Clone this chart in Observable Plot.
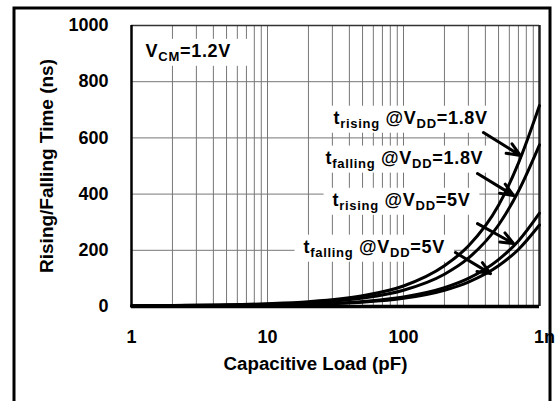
<!DOCTYPE html>
<html><head><meta charset="utf-8">
<script src="https://cdn.jsdelivr.net/npm/d3@7"></script>
<script src="https://cdn.jsdelivr.net/npm/@observablehq/plot@0.6"></script>
<style>
body{margin:0;background:#fff}
#chart svg{display:block}
</style>
</head><body><div id="chart"></div>
<script>
// ---- data ----
const capacitance = [1, 2, 5, 10, 20, 50, 100, 200, 300, 500, 700, 1000]; // pF
const riseVdd18 = [3, 4, 6, 10, 17, 38, 73, 145, 215, 360, 510, 715];
const fallVdd18 = [2, 3, 5, 8, 13, 30, 58, 115, 172, 290, 410, 575];
const riseVdd5  = [2, 2, 3, 5, 8, 18, 34, 67, 100, 167, 233, 332];
const fallVdd5  = [1, 2, 3, 4, 7, 15, 29, 58, 87, 145, 203, 290];
const seriesNames = ["rise18", "fall18", "rise5", "fall5"];

const xTicks = [1, 10, 100];
const xTickLabels = ["1", "10", "100"];
const xLastTick = [1000];
const xLastTickLabel = ["1n"];
const yTicks = [0, 200, 400, 600, 800, 1000];
const gridX = [2,3,4,5,6,7,8,9,10,20,30,40,50,60,70,80,90,100,200,300,400,500,600,700,800,900];
const gridY = [200, 400, 600, 800];

const xTitle = "Capacitive Load (pF)";
const yTitle = "Rising/Falling Time (ns)";

// annotation labels (anchor in data coordinates: pF, ns)
const labelTexts = ["V_{CM}=1.2V", "t_{rising} @V_{DD}=1.8V", "t_{falling} @V_{DD}=1.8V", "t_{rising} @V_{DD}=5V", "t_{falling} @V_{DD}=5V"];
const labelX = [1.27, 30.6, 26.7, 30.1, 18.4];
const labelY = [909, 671, 529, 379, 212];

// arrows (data coordinates)
const arrowX1 = [387, 350, 350, 241];
const arrowY1 = [619, 473, 295, 192];
const arrowX2 = [725, 644, 644, 436];
const arrowY2 = [537, 395, 224, 117];

// ---- build tables ----
const seriesValues = [riseVdd18, fallVdd18, riseVdd5, fallVdd5];
const rows = [];
seriesValues.forEach((vals, s) => vals.forEach((v, i) => rows.push({C: capacitance[i], t: v, series: seriesNames[s]})));
const labels = labelTexts.map((t, i) => ({t, x: labelX[i], y: labelY[i]}));
const arrows = arrowX1.map((d, i) => ({x1: d, y1: arrowY1[i], x2: arrowX2[i], y2: arrowY2[i]}));

const FONT = "Liberation Sans, Arial, Helvetica, sans-serif";

const plot = Plot.plot({
  width: 555, height: 401,
  marginLeft: 131, marginRight: 16, marginTop: 25, marginBottom: 95,
  style: {fontFamily: FONT, fontWeight: "bold", background: "white", color: "black"},
  x: {type: "log", domain: [1, 1000]},
  y: {domain: [0, 1000]},
  marks: [
    Plot.ruleX(gridX, {stroke: "#777", strokeWidth: 1}),
    Plot.ruleY(gridY, {stroke: "#777", strokeWidth: 1}),
    Plot.ruleY([1000], {stroke: "#333", strokeWidth: 1.5}),
    Plot.ruleX([1000], {stroke: "#222", strokeWidth: 2.5}),
    Plot.line(rows, {x: "C", y: "t", z: "series", stroke: "black", strokeWidth: 3, curve: "monotone-x"}),
    Plot.ruleX([1], {stroke: "black", strokeWidth: 2.5}),
    Plot.ruleY([0], {stroke: "black", strokeWidth: 3.5}),
    Plot.axisX(xTicks, {tickFormat: d => xTickLabels[xTicks.indexOf(d)], tickSize: 0, tickPadding: 24, fontSize: 18, fontWeight: "bold", label: null}),
    Plot.axisX(xLastTick, {tickFormat: () => xLastTickLabel[0], tickSize: 0, tickPadding: 24, fontSize: 18, fontWeight: "bold", label: null, dx: 5}),
    Plot.axisY(yTicks, {tickFormat: d => String(d), tickSize: 0, tickPadding: 23, fontSize: 18, fontWeight: "bold", label: null}),
    Plot.text([xTitle], {text: d => d, frameAnchor: "bottom", textAnchor: "middle", dx: -20, dy: 63, fontSize: 18.7, fontWeight: "bold"}),
    Plot.text([yTitle], {text: d => d, frameAnchor: "left", textAnchor: "middle", dx: -85, rotate: -90, fontSize: 19, fontWeight: "bold"}),
    Plot.text(labels, {x: "x", y: "y", text: "t", textAnchor: "start", fontSize: 18, fontWeight: "bold"}),
    Plot.arrow(arrows, {x1: "x1", y1: "y1", x2: "x2", y2: "y2", stroke: "black", strokeWidth: 3, headLength: 10, headAngle: 45})
  ]
});

document.getElementById("chart").appendChild(plot);

// subscripts
const NS = "http://www.w3.org/2000/svg";
const texts = Array.from(plot.querySelectorAll("text")).filter(el => el.textContent.includes("_{"));
texts.forEach(el => {
  const s = el.textContent;
  el.textContent = "";
  el.setAttribute("letter-spacing", "0.7");
  const parts = s.split(/(_\{[^}]*\})/).filter(p => p);
  let shifted = false;
  for (const p of parts) {
    const ts = document.createElementNS(NS, "tspan");
    if (p.startsWith("_{")) {
      ts.textContent = p.slice(2, -1);
      ts.setAttribute("font-size", 13);
      if (!shifted) ts.setAttribute("dy", 4);
      shifted = true;
    } else {
      ts.textContent = p;
      if (shifted) { ts.setAttribute("dy", -4); shifted = false; }
    }
    el.appendChild(ts);
  }
});

// white boxes behind labels (above grid, below curves)
const lineG = plot.querySelector('g[aria-label="line"]');
const annotG = texts.length ? texts[0].parentNode : null;
const boxG = document.createElementNS(NS, "g");
if (annotG && annotG.getAttribute("transform")) boxG.setAttribute("transform", annotG.getAttribute("transform"));
texts.forEach((el, i) => {
  const b = el.getBBox();
  const r = document.createElementNS(NS, "rect");
  const padL = i === 0 ? 14 : 9, padR = i === 0 ? 18 : 9;
  r.setAttribute("x", b.x - padL);
  r.setAttribute("y", b.y - 2);
  r.setAttribute("width", b.width + padL + padR);
  r.setAttribute("height", b.height + 4);
  r.setAttribute("fill", "white");
  if (el.getAttribute("transform")) r.setAttribute("transform", el.getAttribute("transform"));
  boxG.appendChild(r);
});
if (lineG) lineG.parentNode.insertBefore(boxG, lineG);

// outer frame
const frame = document.createElementNS(NS, "rect");
frame.setAttribute("x", 14); frame.setAttribute("y", 8);
frame.setAttribute("width", 536); frame.setAttribute("height", 430);
frame.setAttribute("fill", "none"); frame.setAttribute("stroke", "black"); frame.setAttribute("stroke-width", 3);
plot.appendChild(frame);
</script>
</body></html>
